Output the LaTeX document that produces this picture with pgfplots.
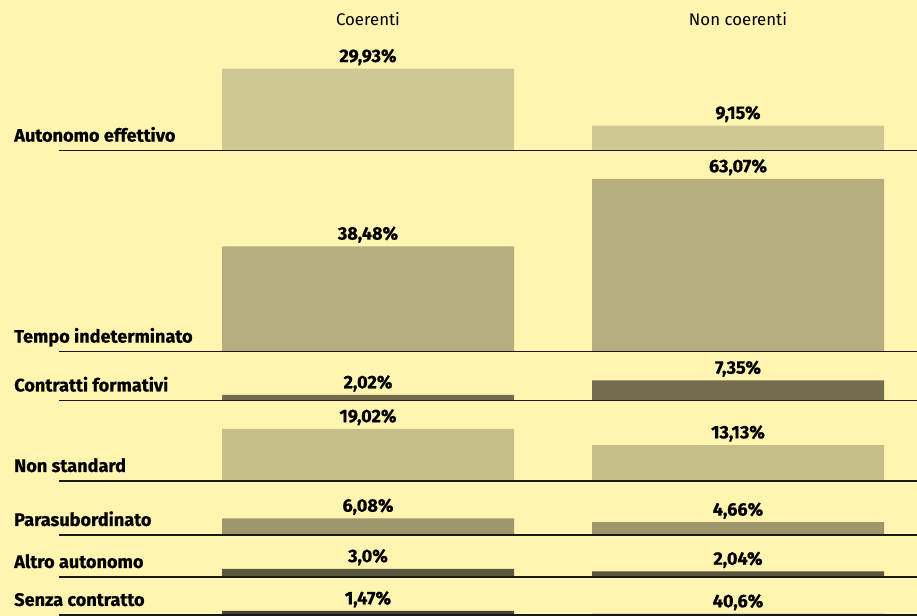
\documentclass[border=0pt]{standalone}
\usepackage{pgfplots}
\pgfplotsset{compat=1.18}
\usepackage{fontspec}
\setmainfont{Fira Sans}[BoldFeatures={FakeBold=0.6}]
\definecolor{bg}{HTML}{FFF5B1}
\definecolor{cA}{HTML}{D0C892}
\definecolor{cB}{HTML}{B5AD7D}
\definecolor{cC}{HTML}{736C4F}
\definecolor{cD}{HTML}{C5BE8A}
\definecolor{cE}{HTML}{9E976D}
\definecolor{cF}{HTML}{5A5640}
\definecolor{cG}{HTML}{464332}
\newcommand{\lblfont}{\bfseries\fontsize{13.6}{15}\selectfont}
\newcommand{\hdrfont}{\fontsize{12.6}{14}\selectfont}
\pgfplotsset{
  rowaxis/.style={at={(0,0)}, anchor=south west, scale only axis,
    width=687.75pt, height=462pt, xmin=0, xmax=917, hide axis,
    ybar, bar width=292, nodes near coords, point meta=explicit symbolic,
    nodes near coords style={font=\lblfont, anchor=base, yshift=5pt, inner sep=0pt, text=black}}
}
\tikzset{
  rowline/.style={line width=0.9pt, draw=black!90},
  rowlabel/.style={anchor=base west, font=\lblfont, inner sep=0pt}
}
\begin{document}
\begin{tikzpicture}[x=0.75pt,y=0.75pt]
\fill[bg] (0,0) rectangle (917,616);
% Autonomo effettivo
\begin{axis}[rowaxis, ymin=-169.82, ymax=55.00]
\addplot[fill=cA, draw=none] coordinates {(368,29.93) [29,93\%] (738,9.15) [9,15\%]};
\draw[rowline] (axis cs:59,0) -- (axis cs:917,0);
\node[rowlabel] at (axis cs:14,3.3) {Autonomo effettivo};
\node[anchor=base, font=\hdrfont, inner sep=0pt] at (axis cs:368,45.7) {Coerenti};
\node[anchor=base, font=\hdrfont, inner sep=0pt] at (axis cs:738,45.7) {Non coerenti};
\end{axis}
% Tempo indeterminato
\begin{axis}[rowaxis, ymin=-96.46, ymax=128.36]
\addplot[fill=cB, draw=none] coordinates {(368,38.48) [38,48\%] (738,63.07) [63,07\%]};
\draw[rowline] (axis cs:59,0) -- (axis cs:917,0);
\node[rowlabel] at (axis cs:14,3.3) {Tempo indeterminato};
\end{axis}
% Contratti formativi
\begin{axis}[rowaxis, ymin=-78.65, ymax=146.17]
\addplot[fill=cC, draw=none] coordinates {(368,2.02) [2,02\%] (738,7.35) [7,35\%]};
\draw[rowline] (axis cs:59,0) -- (axis cs:917,0);
\node[rowlabel] at (axis cs:14,3.3) {Contratti formativi};
\end{axis}
% Non standard
\begin{axis}[rowaxis, ymin=-49.27, ymax=175.55]
\addplot[fill=cD, draw=none] coordinates {(368,19.02) [19,02\%] (738,13.13) [13,13\%]};
\draw[rowline] (axis cs:59,0) -- (axis cs:917,0);
\node[rowlabel] at (axis cs:14,3.3) {Non standard};
\end{axis}
% Parasubordinato
\begin{axis}[rowaxis, ymin=-29.56, ymax=195.26]
\addplot[fill=cE, draw=none] coordinates {(368,6.08) [6,08\%] (738,4.66) [4,66\%]};
\draw[rowline] (axis cs:59,0) -- (axis cs:917,0);
\node[rowlabel] at (axis cs:14,3.3) {Parasubordinato};
\end{axis}
% Altro autonomo
\begin{axis}[rowaxis, ymin=-14.23, ymax=210.58]
\addplot[fill=cF, draw=none] coordinates {(368,3.0) [3,0\%] (738,2.04) [2,04\%]};
\draw[rowline] (axis cs:59,0) -- (axis cs:917,0);
\node[rowlabel] at (axis cs:14,3.3) {Altro autonomo};
\end{axis}
% Senza contratto
\begin{axis}[rowaxis, ymin=-0.37, ymax=224.45]
\addplot[fill=cG, draw=none] coordinates {(368,1.47) [1,47\%] (738,0.406) [40,6\%]};
\draw[rowline] (axis cs:59,0) -- (axis cs:917,0);
\node[rowlabel] at (axis cs:14,3.3) {Senza contratto};
\end{axis}
\pgfresetboundingbox
\path[use as bounding box] (0,0) rectangle (917,616);
\end{tikzpicture}
\end{document}
